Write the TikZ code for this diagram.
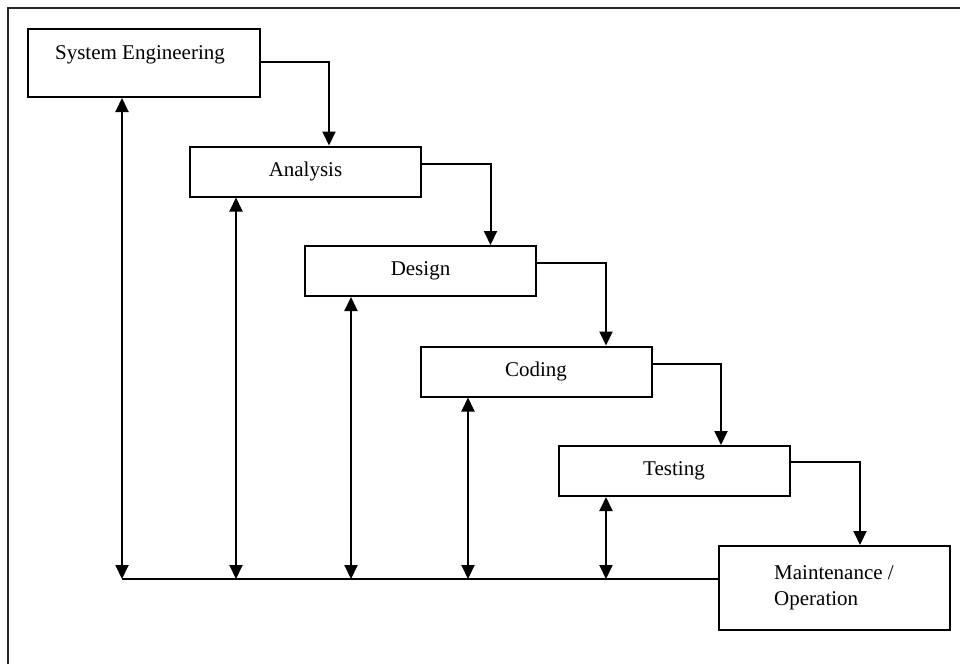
\documentclass[tikz,border=0pt]{standalone}
\usepackage{fontspec}
\setmainfont{Liberation Serif}
\usetikzlibrary{arrows.meta}

\tikzset{
  phase/.style={draw, line width=2pt, inner sep=0pt, minimum width=231pt, minimum height=50pt},
  flow/.style={line width=2pt, -{Triangle[length=14pt, width=13pt]}},
  back/.style={line width=2pt, {Triangle[length=14pt, width=13pt]}-{Triangle[length=14pt, width=13pt]}}
}

\begin{document}
\begin{tikzpicture}[x=1pt, y=-1pt, every node/.style={font=\fontsize{21}{26}\selectfont}]
  \useasboundingbox (0,0) rectangle (960,664);
  % frame (cut off on the right and bottom)
  \draw[line width=2.6pt, black!85] (8,664) -- (8,8) -- (960,8);

  % The phases
  \node[phase, minimum width=232pt, minimum height=68pt] (seng) at (144,63) {};
  \node (sengtext) at (140,55) {System Engineering};
  \node[phase] (analysis) at (305.5,171.5) {Analysis};
  \node[phase] (design) at (420.5,271) {Design};
  \node[phase] (coding) at (536,371.5) {Coding};
  \node[phase] (testing) at (674,471) {Testing};
  \node[phase, minimum height=84pt, align=left] (maint) at (834,588) {Maintenance /\\Operation};

  % Forward steps
  \draw[flow] ([yshift=1pt]seng.east) -| ([xshift=23.5pt]analysis.north);
  \draw[flow] ([yshift=8pt]analysis.east) -| ([xshift=70pt]design.north);
  \draw[flow] ([yshift=8pt]design.east) -| ([xshift=70pt]coding.north);
  \draw[flow] ([yshift=8pt]coding.east) -| ([xshift=47pt]testing.north);
  \draw[flow] ([yshift=9pt]testing.east) -| ([xshift=26pt]maint.north);

  % Feedback to every phase
  \coordinate (b1) at (122,579);
  \coordinate (b2) at (236,579);
  \coordinate (b3) at (351,579);
  \coordinate (b4) at (468,579);
  \coordinate (b5) at (606,579);
  \draw[line width=2pt] (b1) -- (b1 -| maint.west);
  \draw[back] (b1) -- (b1 |- seng.south);
  \draw[back] (b2) -- (b2 |- analysis.south);
  \draw[back] (b3) -- (b3 |- design.south);
  \draw[back] (b4) -- (b4 |- coding.south);
  \draw[back] (b5) -- (b5 |- testing.south);
\end{tikzpicture}
\end{document}
